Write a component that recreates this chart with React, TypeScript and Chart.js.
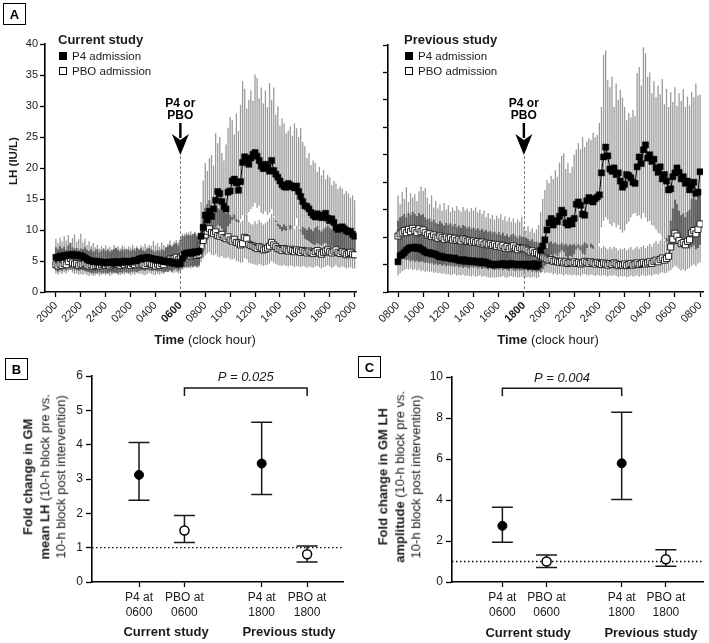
import React, { useEffect, useRef } from "react";
import { Chart, registerables } from "chart.js";
Chart.register(...registerables);

const FONT = "'Liberation Sans', Arial, Helvetica, sans-serif";
Chart.defaults.font.family = FONT;
Chart.defaults.color = "#1a1a1a";

// ---------------- Panel A : 10-min LH sampling, 145 samples ----------------
const curTickLabels = ["2000", "2200", "2400", "0200", "0400", "0600", "0800", "1000", "1200", "1400", "1600", "1800", "2000"];
const prevTickLabels = ["0800", "1000", "1200", "1400", "1600", "1800", "2000", "2200", "2400", "0200", "0400", "0600", "0800"];
const samplesPerTick = 12;
const interventionSample = 60;

// Current study (P4 / PBO at 0600)
const curP4Mean = [
  5.6,5.5,5.8,5.7,5.9,5.8,6.0,5.9,6.1,5.9,6.0,5.8,
  5.9,5.7,5.5,5.3,5.1,5.0,4.9,5.0,4.8,4.9,4.8,4.8,
  4.7,4.8,4.8,4.7,4.9,4.8,4.7,4.9,4.8,5.0,4.9,4.8,
  4.9,5.0,5.1,5.0,5.3,5.4,5.5,5.4,5.6,5.5,5.4,5.3,
  5.3,5.1,5.2,5.0,4.9,5.0,4.8,4.9,4.7,4.6,4.8,4.5,
  4.6,5.4,6.1,6.3,6.2,6.4,6.3,6.5,6.4,6.6,9.0,10.4,
  12.4,11.6,13.0,12.2,13.4,14.8,16.2,15.9,14.6,13.8,13.4,16.1,
  16.3,17.9,18.2,17.6,16.4,17.8,20.9,21.8,21.3,20.6,21.6,22.2,
  22.5,21.9,21.2,20.3,19.9,20.6,20.1,19.5,21.2,19.6,19.0,18.5,
  17.9,17.3,17.0,16.9,17.5,17.2,17.0,16.8,17.1,16.2,15.4,14.6,
  13.9,13.8,13.4,12.8,12.4,12.1,12.6,12.3,12.0,12.4,12.7,11.9,
  11.5,11.8,11.2,10.4,10.1,10.3,10.5,10.2,9.9,9.7,9.8,9.3,
  9.0,
];
const curP4Upper = [
  8.6,7.9,8.8,8.2,9.0,8.3,9.2,8.0,8.7,9.3,8.1,8.5,
  9.4,8.0,8.6,7.6,8.2,7.4,7.9,7.2,7.6,7.0,7.4,7.1,
  7.5,7.0,7.3,6.9,7.6,7.2,7.4,7.0,7.5,7.3,6.9,7.4,
  7.2,7.6,7.1,7.4,7.0,7.5,7.3,7.8,7.2,7.6,7.4,8.2,
  7.5,7.9,7.3,8.0,7.6,7.2,7.8,8.3,7.6,8.1,8.4,8.0,
  8.6,9.4,9.0,9.6,9.2,9.8,9.3,9.5,9.0,9.4,14.5,18.0,
  20.8,19.5,21.6,22.1,20.4,25.6,24.0,25.0,22.4,21.2,23.8,26.5,
  28.2,27.7,25.4,28.8,26.0,30.2,34.0,32.8,29.6,31.0,32.5,30.8,
  35.1,34.5,31.2,33.0,30.4,32.5,29.8,33.7,31.0,33.0,28.6,29.9,
  26.8,28.0,27.2,25.6,26.0,26.7,25.2,27.2,26.4,25.0,26.5,24.2,
  23.5,21.6,22.4,20.5,21.2,20.8,19.4,20.2,18.8,19.7,18.2,18.9,
  18.5,17.2,17.9,17.5,16.6,17.0,16.7,15.8,16.3,15.9,15.2,15.6,
  14.8,
];
const curP4Lower = [
  3.5,3.3,3.6,3.4,3.7,3.5,3.8,3.6,3.7,3.5,3.6,3.4,
  3.6,3.5,3.4,3.3,3.2,3.1,3.0,3.1,3.0,3.2,3.0,3.1,
  3.1,3.0,3.2,3.1,3.2,3.1,3.0,3.2,3.1,3.3,3.2,3.1,
  3.2,3.3,3.3,3.2,3.4,3.5,3.5,3.4,3.6,3.5,3.4,3.4,
  3.5,3.3,3.4,3.3,3.2,3.3,3.2,3.3,3.1,3.1,3.2,3.0,
  3.2,3.6,4.0,4.1,4.0,4.2,4.1,4.2,4.1,4.3,5.6,6.4,
  8.0,8.4,9.2,9.6,10.0,10.4,10.8,10.6,10.2,9.8,9.6,10.6,
  11.0,11.6,11.8,11.4,11.2,11.8,12.4,12.8,12.6,12.9,13.4,13.8,
  14.4,13.6,13.9,12.8,12.6,13.0,12.4,12.8,13.4,12.2,11.3,10.6,
  10.2,9.8,10.0,9.9,10.3,10.1,10.4,10.6,11.9,10.4,9.8,9.2,
  8.6,8.4,8.2,7.9,7.7,7.6,7.9,7.7,7.5,7.8,7.9,7.4,
  7.2,7.4,7.0,6.8,6.7,6.9,7.0,6.8,6.7,6.5,6.6,6.3,
  6.2,
];
const curPboMean = [
  4.4,4.2,4.5,4.3,4.6,4.4,4.9,5.4,4.7,4.5,4.6,4.3,
  4.5,4.4,4.6,4.3,4.2,4.4,4.1,4.3,4.5,4.2,4.4,4.6,
  4.3,4.5,4.2,4.4,4.6,4.8,4.5,4.3,4.6,4.4,4.7,4.5,
  4.3,4.6,4.4,4.8,4.5,4.7,4.4,4.3,4.6,4.8,4.5,4.4,
  4.2,4.5,4.3,4.6,4.4,4.9,5.1,5.3,5.0,5.4,5.6,5.2,
  5.5,5.8,6.0,5.9,6.1,5.8,6.0,6.2,5.9,6.1,7.4,8.3,
  9.2,9.8,10.2,9.6,9.4,9.7,9.1,9.0,9.3,8.8,8.6,8.9,
  8.4,8.2,8.5,8.0,7.9,7.6,7.8,8.8,8.6,7.7,7.5,7.4,
  7.2,7.0,7.3,7.1,6.8,6.9,7.1,7.4,8.0,7.6,7.3,7.0,
  6.9,6.7,7.0,6.8,6.6,6.9,6.7,6.5,6.8,6.6,6.4,6.7,
  6.5,6.3,6.6,6.4,6.2,6.5,6.7,6.3,6.1,6.4,6.6,6.8,
  6.5,6.3,6.6,6.8,6.4,6.2,6.5,6.3,6.0,6.2,6.4,6.1,
  6.0,
];
const curPboUpper = [
  7.2,6.9,7.4,7.0,7.3,6.8,7.5,7.9,7.2,7.0,7.1,6.8,
  7.0,6.9,7.2,6.8,6.6,6.9,6.5,6.7,6.9,6.4,6.7,6.9,
  6.6,6.8,6.5,6.7,6.9,7.1,6.8,6.6,6.9,6.7,7.0,6.8,
  6.6,6.9,6.7,7.1,6.8,7.0,6.7,6.6,6.9,7.1,6.8,6.7,
  6.5,6.8,6.6,6.9,6.7,7.2,7.4,7.6,7.3,7.7,7.9,7.5,
  8.4,9.0,9.4,9.2,9.6,9.1,9.4,9.7,9.3,9.5,11.0,12.4,
  13.6,14.2,14.8,14.0,13.8,14.2,13.5,13.3,13.7,13.0,12.7,13.1,
  12.4,12.1,12.5,11.8,11.6,11.2,11.5,12.8,12.5,11.3,11.0,10.9,
  11.4,11.0,11.6,11.2,10.9,11.1,11.4,11.9,12.6,12.0,11.5,11.0,
  10.8,10.5,10.9,10.6,10.3,10.8,10.5,10.2,10.7,10.3,10.0,10.5,
  10.3,10.0,10.4,10.1,9.8,10.3,10.6,10.0,9.7,10.1,10.4,10.7,
  10.3,10.0,10.4,10.7,10.1,9.8,10.3,10.0,9.6,9.9,10.1,9.7,
  9.6,
];
const curPboLower = [
  3.0,2.8,3.1,2.9,3.2,3.0,3.3,3.6,3.1,2.9,3.0,2.8,
  2.9,2.8,3.0,2.7,2.6,2.8,2.6,2.7,2.9,2.6,2.8,2.9,
  2.7,2.9,2.6,2.8,2.9,3.0,2.8,2.7,2.9,2.8,3.0,2.9,
  2.7,2.9,2.8,3.1,2.9,3.0,2.8,2.7,2.9,3.1,2.9,2.8,
  2.7,2.9,2.8,3.0,2.9,3.2,3.3,3.5,3.3,3.6,3.7,3.4,
  3.6,3.8,3.9,3.8,4.0,3.8,3.9,4.1,3.9,4.0,4.8,5.4,
  5.9,6.2,6.4,6.0,5.9,6.1,5.7,5.6,5.8,5.5,5.4,5.6,
  5.3,5.2,5.4,5.0,4.9,4.7,4.8,5.5,5.3,4.7,4.6,4.5,
  4.4,4.3,4.5,4.4,4.2,4.3,4.4,4.6,5.0,4.7,4.5,4.3,
  4.3,4.2,4.4,4.2,4.1,4.3,4.2,4.0,4.2,4.1,4.0,4.2,
  4.1,3.9,4.1,4.0,3.9,4.1,4.2,4.0,3.8,4.0,4.1,4.3,
  4.1,3.9,4.1,4.3,4.0,3.9,4.1,4.0,3.8,3.9,4.0,3.8,
  3.8,
];

// Previous study (P4 / PBO at 1800)
const prevP4Mean = [
  5.5,6.6,6.8,7.2,7.6,7.9,8.1,8.0,8.2,7.9,8.1,7.8,
  7.6,7.3,7.1,7.2,6.9,7.0,6.8,6.6,6.4,6.5,6.3,6.2,
  6.3,6.1,6.0,6.2,5.9,5.8,5.7,5.9,5.6,5.8,5.6,5.5,
  5.7,5.5,5.4,5.6,5.3,5.5,5.4,5.2,5.0,5.1,4.9,5.0,
  5.1,5.0,5.2,5.0,4.9,5.1,5.2,5.0,5.1,4.9,5.0,5.1,
  5.0,4.8,5.1,4.7,4.9,5.2,4.6,5.0,7.6,8.4,9.5,11.3,
  12.6,13.4,12.2,13.0,12.8,13.8,14.9,14.4,12.6,12.2,13.0,12.4,
  13.4,16.0,16.4,15.8,14.2,14.0,16.6,17.2,16.8,16.4,17.0,17.3,
  17.7,21.7,24.6,26.4,24.8,22.4,22.0,22.6,21.4,21.7,20.2,19.1,
  19.6,21.4,21.2,20.8,20.0,19.8,22.8,24.6,23.4,25.9,26.8,24.4,
  25.0,23.8,24.2,22.6,21.8,22.8,20.6,21.4,20.2,18.6,18.8,21.0,
  21.7,22.6,21.8,20.6,21.0,19.8,20.2,18.6,19.4,20.0,18.0,18.2,
  21.9,
];
const prevP4Upper = [
  17.6,16.0,18.2,17.0,19.1,16.4,18.0,17.2,17.8,16.6,18.3,19.2,
  18.4,19.0,17.2,16.0,17.6,15.4,16.6,15.2,16.0,14.8,16.2,15.0,
  15.8,14.6,15.4,14.8,15.6,15.0,14.6,15.5,14.9,15.2,14.6,15.3,
  14.8,15.4,14.5,15.0,14.2,14.8,13.6,14.4,13.4,14.0,13.2,13.9,
  13.4,14.2,13.1,13.8,12.9,13.6,12.8,13.4,12.6,13.2,12.8,13.7,
  11.8,11.2,12.0,11.0,11.6,10.8,11.4,12.2,14.6,17.0,18.6,20.4,
  19.8,21.2,20.6,22.2,21.0,23.6,24.8,25.3,22.4,23.5,21.7,22.8,
  25.0,25.9,27.1,26.0,28.2,26.4,27.4,28.0,27.7,29.0,28.2,28.6,
  30.8,33.7,43.2,44.0,38.6,37.3,39.2,33.7,38.0,35.0,36.8,35.4,
  33.7,31.3,32.6,31.8,33.2,32.0,39.9,41.0,37.6,44.6,43.5,39.2,
  40.0,36.2,38.4,35.5,37.6,36.0,38.8,34.2,37.0,33.7,36.4,34.6,
  37.3,33.9,36.2,34.8,37.0,33.7,35.6,34.0,36.5,35.5,38.0,35.8,
  36.0,
];
const prevP4Lower = [
  3.0,3.4,3.8,4.0,4.2,4.1,4.3,4.0,4.2,3.9,4.1,3.8,
  3.9,3.7,3.8,3.6,3.7,3.5,3.6,3.4,3.5,3.3,3.4,3.2,
  3.3,3.1,3.2,3.3,3.0,3.1,3.0,3.2,2.9,3.0,2.9,2.8,
  3.0,2.8,2.9,3.0,2.8,2.9,2.8,2.7,2.6,2.7,2.6,2.7,
  2.8,2.7,2.9,2.7,2.6,2.8,2.9,2.7,2.8,2.6,2.7,2.8,
  2.7,2.6,2.8,2.6,2.7,2.8,2.5,2.7,3.6,4.2,4.8,5.6,
  6.2,6.8,6.4,7.0,6.6,7.2,7.6,7.3,6.5,6.2,6.6,6.4,
  6.9,7.8,8.1,7.6,7.0,6.8,8.0,8.4,8.1,7.9,8.3,8.6,
  8.9,11.8,13.0,13.6,13.2,12.4,12.0,12.6,11.8,12.2,11.4,10.8,
  11.2,12.4,12.8,13.6,14.2,14.4,13.8,14.0,13.4,14.4,13.6,12.8,
  13.0,12.2,12.0,11.4,10.8,10.6,10.0,9.6,9.2,8.8,8.6,8.4,
  8.6,8.8,8.4,8.2,8.6,8.0,8.3,7.9,8.2,8.5,7.8,8.0,
  8.6,
];
const prevPboMean = [
  10.2,10.6,10.9,11.2,10.8,11.4,11.0,11.6,11.2,10.8,11.5,11.0,
  11.3,10.8,10.4,10.6,10.1,10.4,10.0,9.8,10.2,9.9,9.6,10.0,
  9.7,9.9,9.5,9.8,9.4,9.6,9.3,9.7,9.5,9.2,9.4,9.1,
  9.3,9.0,9.2,8.9,9.1,8.7,8.9,8.6,8.8,8.5,8.7,8.3,
  8.6,8.2,8.5,8.0,8.3,7.9,8.2,8.4,8.0,7.7,8.1,7.9,
  8.0,7.8,7.6,7.3,7.5,7.1,7.2,6.9,6.6,6.4,6.2,6.0,
  5.8,5.9,5.6,5.7,5.5,5.4,5.6,5.3,5.5,5.2,5.4,5.3,
  5.5,5.2,5.4,5.1,5.3,5.6,5.4,5.2,5.5,5.3,5.1,5.4,
  5.2,5.0,5.3,5.1,4.9,5.2,5.0,5.3,5.1,4.8,5.0,4.9,
  5.1,4.8,5.0,5.2,4.9,5.1,5.3,5.0,5.2,5.4,5.1,5.3,
  5.5,5.2,5.6,5.8,5.5,5.9,6.2,5.8,6.1,6.5,8.2,9.6,
  10.7,10.2,9.4,8.8,9.0,8.6,9.2,9.5,10.8,11.2,10.6,11.4,
  12.4,
];
const prevPboUpper = [
  13.0,13.6,13.8,14.2,13.6,14.4,14.0,14.6,14.2,13.8,14.4,14.0,
  14.2,13.6,13.2,13.4,12.8,13.2,12.6,12.4,12.9,12.5,12.1,12.6,
  12.2,12.5,12.0,12.4,11.8,12.1,11.7,12.2,12.0,11.6,11.9,11.5,
  11.7,11.4,11.6,11.2,11.5,11.0,11.3,10.9,11.1,10.8,11.0,10.5,
  10.9,10.4,10.8,10.2,10.5,10.0,10.4,10.6,10.2,9.8,10.3,10.0,
  10.1,9.9,9.7,9.3,9.6,9.1,9.2,8.9,8.6,8.4,8.2,8.0,
  9.0,9.2,8.8,9.0,8.7,8.6,8.9,8.5,8.8,8.4,8.7,8.5,
  8.8,8.4,8.7,8.3,8.6,9.0,8.7,8.4,8.8,8.5,8.2,8.6,
  8.3,8.0,8.4,8.1,7.8,8.2,7.9,8.3,8.0,7.6,7.9,7.8,
  8.0,7.6,7.9,8.2,7.7,8.0,8.3,7.9,8.2,8.5,8.0,8.4,
  8.8,8.3,8.9,9.3,8.8,9.4,9.9,9.3,9.8,10.4,13.0,15.2,
  16.8,16.0,14.8,14.0,14.3,13.6,14.6,15.0,17.0,17.6,16.8,18.0,
  18.6,
];
const prevPboLower = [
  6.2,6.5,6.4,6.0,5.8,5.9,5.6,5.8,5.5,5.7,5.4,5.6,
  5.5,5.3,5.4,5.2,5.3,5.0,5.2,4.9,5.1,4.8,5.0,4.7,
  4.9,4.7,4.8,4.6,4.8,4.5,4.7,4.4,4.6,4.5,4.3,4.6,
  4.4,4.6,4.3,4.5,4.2,4.4,4.3,4.1,4.4,4.2,4.0,4.3,
  4.1,4.3,4.0,4.2,4.1,3.9,4.2,4.0,3.8,4.1,3.9,4.0,
  3.9,4.1,3.8,4.0,3.7,3.9,3.6,3.8,3.5,3.7,3.4,3.6,
  3.4,3.5,3.2,3.4,3.1,3.3,3.2,3.0,3.3,3.1,3.2,3.0,
  3.2,3.0,3.1,2.9,3.2,3.3,3.1,3.0,3.2,3.1,2.9,3.1,
  3.0,2.9,3.1,3.0,2.8,3.0,2.9,3.1,2.9,2.7,2.9,2.8,
  2.9,2.7,2.8,3.0,2.8,2.9,3.0,2.8,3.0,3.1,2.9,3.0,
  3.1,2.9,3.2,3.3,3.1,3.4,3.6,3.4,3.5,3.8,4.0,4.4,
  4.8,4.6,4.2,3.9,4.1,3.8,4.2,4.4,4.8,5.0,4.7,5.2,
  5.4,
];

// ---------------- Panels B & C : fold changes (GM, 95% CI) ----------------
const groupLabels = [["P4 at", "0600"], ["PBO at", "0600"], ["P4 at", "1800"], ["PBO at", "1800"]];
const groupFilled = [true, false, true, false];
const meanFoldMean = [3.12, 1.50, 3.45, 0.81];
const meanFoldUpper = [4.06, 1.94, 4.65, 1.05];
const meanFoldLower = [2.38, 1.15, 2.55, 0.58];
const ampFoldMean = [2.74, 1.00, 5.79, 1.11];
const ampFoldUpper = [3.65, 1.32, 8.28, 1.57];
const ampFoldLower = [1.94, 0.71, 4.03, 0.77];

// ---------------- plugins ----------------
// Error bars of both series: single coverage in light grey, overlap of the two in dark grey.
const errorBandPlugin = (a: any, b: any) => ({
  id: "errorBand",
  beforeDatasetsDraw(chart: any) {
    const { ctx } = chart;
    const xs = chart.scales.x, ys = chart.scales.y;
    ctx.save();
    const n = a.lo.length;
    ctx.strokeStyle = "#9a9a9a";
    ctx.lineWidth = 1.3;
    for (let i = 0; i < n; i++) {
      const px = xs.getPixelForValue(i);
      for (const s of [a, b]) {
        ctx.beginPath();
        ctx.moveTo(px, ys.getPixelForValue(s.lo[i]));
        ctx.lineTo(px, ys.getPixelForValue(s.hi[i]));
        ctx.stroke();
      }
    }
    ctx.strokeStyle = "#606060";
    ctx.lineWidth = 1.9;
    for (let i = 0; i < n; i++) {
      const lo = Math.max(a.lo[i], b.lo[i]);
      const hi = Math.min(a.hi[i], b.hi[i]);
      if (hi <= lo) continue;
      const px = xs.getPixelForValue(i);
      ctx.beginPath();
      ctx.moveTo(px, ys.getPixelForValue(lo));
      ctx.lineTo(px, ys.getPixelForValue(hi));
      ctx.stroke();
    }
    ctx.restore();
  },
});

const interventionPlugin = (at: number) => ({
  id: "intervention",
  beforeDatasetsDraw(chart: any) {
    const { ctx, chartArea } = chart;
    const px = Math.round(chart.scales.x.getPixelForValue(at)) + 0.5;
    ctx.save();
    ctx.strokeStyle = "#808080";
    ctx.lineWidth = 1;
    ctx.setLineDash([3, 2]);
    ctx.beginPath();
    ctx.moveTo(px, 156);
    ctx.lineTo(px, chartArea.bottom);
    ctx.stroke();
    ctx.restore();
  },
  afterDraw(chart: any) {
    const { ctx } = chart;
    const px = chart.scales.x.getPixelForValue(at);
    ctx.save();
    ctx.fillStyle = "#000";
    ctx.font = `bold 12px ${FONT}`;
    ctx.textAlign = "center";
    ctx.textBaseline = "middle";
    ctx.fillText("P4 or", px, 104);
    ctx.fillText("PBO", px, 115.5);
    ctx.fillRect(px - 1.2, 123, 2.4, 15);
    ctx.beginPath();
    ctx.moveTo(px - 8.5, 134);
    ctx.lineTo(px, 155);
    ctx.lineTo(px + 8.5, 134);
    ctx.lineTo(px, 140);
    ctx.closePath();
    ctx.fill();
    ctx.restore();
  },
});

const summaryPlugin = (pos: number[], lo: number[], hi: number[], br: any) => ({
  id: "summary",
  beforeDatasetsDraw(chart: any) {
    const { ctx, chartArea: ca } = chart;
    const xs = chart.scales.x, ys = chart.scales.y;
    ctx.save();
    const y1 = ys.getPixelForValue(1);
    ctx.strokeStyle = "#000";
    ctx.lineWidth = 1.3;
    ctx.setLineDash([1.5, 2.5]);
    ctx.beginPath();
    ctx.moveTo(ca.left, y1);
    ctx.lineTo(ca.right, y1);
    ctx.stroke();
    ctx.setLineDash([]);
    ctx.strokeStyle = "#1a1a1a";
    ctx.lineWidth = 1.5;
    pos.forEach((p, k) => {
      const px = xs.getPixelForValue(p);
      const yh = ys.getPixelForValue(hi[k]);
      const yl = ys.getPixelForValue(lo[k]);
      ctx.beginPath();
      ctx.moveTo(px, yh); ctx.lineTo(px, yl);
      ctx.moveTo(px - 10.5, yh); ctx.lineTo(px + 10.5, yh);
      ctx.moveTo(px - 10.5, yl); ctx.lineTo(px + 10.5, yl);
      ctx.stroke();
    });
    // significance bracket
    const xa = xs.getPixelForValue(pos[br.from]);
    const xb = xs.getPixelForValue(pos[br.to]);
    const yt = ys.getPixelForValue(br.yTop);
    const ye = ys.getPixelForValue(br.yEnd);
    ctx.beginPath();
    ctx.moveTo(xa, ye); ctx.lineTo(xa, yt); ctx.lineTo(xb, yt); ctx.lineTo(xb, ye);
    ctx.stroke();
    ctx.fillStyle = "#1a1a1a";
    ctx.font = `italic 13px ${FONT}`;
    ctx.textAlign = "center";
    ctx.textBaseline = "middle";
    ctx.fillText(br.text, (xa + xb) / 2, ys.getPixelForValue(br.yText) + 1);
    ctx.restore();
  },
});

// ---------------- chart configs ----------------
function timeCourseConfig(o: any) {
  const tickVals = o.labels.map((_: string, k: number) => k * samplesPerTick);
  const pts = (arr: number[]) => arr.map((v, i) => ({ x: i, y: v }));
  return {
    type: "line",
    data: {
      datasets: [
        {
          label: "P4 admission",
          data: pts(o.p4.mean),
          borderColor: "#000",
          borderWidth: 1,
          pointStyle: "rect",
          pointRadius: 4.3,
          pointBackgroundColor: "#000",
          pointBorderColor: "#000",
          pointBorderWidth: 0.5,
          tension: 0,
        },
        {
          label: "PBO admission",
          data: pts(o.pbo.mean),
          borderColor: "#333",
          borderWidth: 1,
          pointStyle: "rect",
          pointRadius: 4.3,
          pointBackgroundColor: "#fff",
          pointBorderColor: "#222",
          pointBorderWidth: 1,
          tension: 0,
        },
      ],
    },
    options: {
      responsive: false,
      animation: false,
      events: [],
      layout: { padding: { left: 0, right: o.padRight, top: o.padTop, bottom: 8 } },
      plugins: { legend: { display: false }, tooltip: { enabled: false } },
      scales: {
        x: {
          type: "linear",
          min: o.xMin,
          max: o.xMax,
          afterBuildTicks: (s: any) => { s.ticks = tickVals.map((v: number) => ({ value: v })); },
          afterFit: (s: any) => { s.height = 30; s.paddingLeft = 0; s.paddingRight = 0; },
          ticks: {
            autoSkip: false,
            minRotation: 45,
            maxRotation: 45,
            padding: 2,
            color: "#1a1a1a",
            callback: (v: number) => { const k = tickVals.indexOf(v); return k >= 0 ? o.labels[k] : ""; },
            font: (c: any) => ({ size: 11, weight: c.tick && c.tick.value === interventionSample ? "bold" : "normal" }),
          },
          grid: { drawOnChartArea: false, drawTicks: true, tickLength: 5, tickColor: "#000", tickWidth: 1.3 },
          border: { display: true, color: "#000", width: 1.6 },
        },
        y: {
          type: "linear",
          min: 0,
          max: o.yMax,
          afterFit: (s: any) => { s.width = o.yAxisWidth; s.paddingTop = 0; s.paddingBottom = 0; },
          ticks: {
            stepSize: 5,
            padding: 2,
            color: "#1a1a1a",
            font: { size: 11 },
            callback: (v: number) => (o.showYLabels ? String(v) : ""),
          },
          grid: { drawOnChartArea: false, drawTicks: true, tickLength: 5, tickColor: "#000", tickWidth: 1.3 },
          border: { display: true, color: "#000", width: 1.6 },
        },
      },
    },
    plugins: [
      errorBandPlugin({ lo: o.p4.lo, hi: o.p4.hi }, { lo: o.pbo.lo, hi: o.pbo.hi }),
      interventionPlugin(interventionSample),
    ],
  };
}

function foldConfig(o: any) {
  const filled: any[] = [];
  const open: any[] = [];
  o.pos.forEach((p: number, k: number) => (groupFilled[k] ? filled : open).push({ x: p, y: o.mean[k] }));
  return {
    type: "scatter",
    data: {
      datasets: [
        { label: "P4", data: filled, pointStyle: "circle", pointRadius: 4.5, pointBackgroundColor: "#000", pointBorderColor: "#000", pointBorderWidth: 1 },
        { label: "PBO", data: open, pointStyle: "circle", pointRadius: 4.5, pointBackgroundColor: "#fff", pointBorderColor: "#000", pointBorderWidth: 1.5 },
      ],
    },
    options: {
      responsive: false,
      animation: false,
      events: [],
      layout: { padding: { left: 0, right: o.padRight, top: o.padTop, bottom: 21 } },
      plugins: { legend: { display: false }, tooltip: { enabled: false } },
      scales: {
        x: {
          type: "linear",
          min: o.xMin,
          max: o.xMax,
          afterBuildTicks: (s: any) => { s.ticks = o.pos.map((v: number) => ({ value: v })); },
          afterFit: (s: any) => { s.height = 40; s.paddingLeft = 0; s.paddingRight = 0; },
          ticks: {
            autoSkip: false,
            maxRotation: 0,
            minRotation: 0,
            padding: 3,
            color: "#1a1a1a",
            font: { size: 12, lineHeight: 1.25 },
            callback: (v: number) => { const k = o.pos.indexOf(v); return k >= 0 ? groupLabels[k] : ""; },
          },
          grid: { drawOnChartArea: false, drawTicks: true, tickLength: 5, tickColor: "#000", tickWidth: 1.3 },
          border: { display: true, color: "#000", width: 1.6 },
        },
        y: {
          type: "linear",
          min: 0,
          max: o.yMax,
          afterFit: (s: any) => { s.width = o.yAxisWidth; s.paddingTop = 0; s.paddingBottom = 0; },
          ticks: { stepSize: o.yStep, padding: 3, color: "#1a1a1a", font: { size: 12 } },
          grid: { drawOnChartArea: false, drawTicks: true, tickLength: 6, tickColor: "#000", tickWidth: 1.3 },
          border: { display: true, color: "#000", width: 1.6 },
        },
      },
    },
    plugins: [summaryPlugin(o.pos, o.lower, o.upper, o.bracket)],
  };
}

// ---------------- components ----------------
function ChartBox({ left, top, width, height, make }: any) {
  const ref = useRef<HTMLCanvasElement>(null);
  useEffect(() => {
    const chart = new Chart(ref.current as HTMLCanvasElement, make());
    return () => chart.destroy();
  }, []);
  return (
    <canvas
      ref={ref}
      width={width}
      height={height}
      style={{ position: "absolute", left, top, width, height }}
    />
  );
}

function Txt({ x, y, size = 12, bold = false, italic = false, align = "left", children }: any) {
  const lh = Math.round(size * 1.25);
  const base: any = {
    position: "absolute",
    top: y - lh / 2,
    fontSize: size,
    lineHeight: `${lh}px`,
    fontWeight: bold ? "bold" : "normal",
    fontStyle: italic ? "italic" : "normal",
    whiteSpace: "nowrap",
    color: "#1a1a1a",
  };
  if (align === "center") {
    base.left = x - 200;
    base.width = 400;
    base.textAlign = "center";
  } else {
    base.left = x;
  }
  return <div style={base}>{children}</div>;
}

function PanelLetter({ x, y, letter }: any) {
  return (
    <div
      style={{
        position: "absolute",
        left: x,
        top: y,
        width: 23,
        height: 22,
        border: "1.5px solid #000",
        boxSizing: "border-box",
        display: "flex",
        alignItems: "center",
        justifyContent: "center",
        fontWeight: "bold",
        fontSize: 13,
      }}
    >
      {letter}
    </div>
  );
}

function Legend({ x, title }: any) {
  const sq = (filled: boolean, y: number) => (
    <div
      style={{
        position: "absolute",
        left: x + 1,
        top: y - 4,
        width: 8,
        height: 8,
        boxSizing: "border-box",
        background: filled ? "#000" : "#fff",
        border: "1px solid #000",
      }}
    />
  );
  return (
    <>
      <Txt x={x} y={40} size={13} bold>{title}</Txt>
      {sq(true, 56)}
      <Txt x={x + 14} y={56} size={11.5}>P4 admission</Txt>
      {sq(false, 71)}
      <Txt x={x + 14} y={71} size={11.5}>PBO admission</Txt>
    </>
  );
}

function RotTitle({ cx, cy, lines, size = 13, lh = 16.5 }: any) {
  const h = lh * lines.length;
  return (
    <div
      style={{
        position: "absolute",
        left: cx - 130,
        top: cy - h / 2,
        width: 260,
        height: h,
        transform: "rotate(-90deg)",
        transformOrigin: "50% 50%",
        textAlign: "center",
        fontSize: size,
        lineHeight: `${lh}px`,
        whiteSpace: "nowrap",
        color: "#1a1a1a",
      }}
    >
      {lines.map((l: any, k: number) => (
        <div key={k}>{l}</div>
      ))}
    </div>
  );
}

const groupPos = [1, 2, 3.7, 4.7];

export default function App() {
  return (
    <div
      style={{
        position: "fixed",
        left: 0,
        top: 0,
        width: 709,
        height: 643,
        background: "#fff",
        overflow: "hidden",
        fontFamily: FONT,
      }}
    >
      <ChartBox
        left={0}
        top={0}
        width={362}
        height={330}
        make={() =>
          timeCourseConfig({
            p4: { mean: curP4Mean, lo: curP4Lower, hi: curP4Upper },
            pbo: { mean: curPboMean, lo: curPboLower, hi: curPboUpper },
            labels: curTickLabels,
            yMax: 40,
            showYLabels: true,
            xMin: -5.25,
            xMax: 145.0,
            yAxisWidth: 45,
            padRight: 2,
            padTop: 44,
          })
        }
      />
      <ChartBox
        left={355}
        top={0}
        width={354}
        height={330}
        make={() =>
          timeCourseConfig({
            p4: { mean: prevP4Mean, lo: prevP4Lower, hi: prevP4Upper },
            pbo: { mean: prevPboMean, lo: prevPboLower, hi: prevPboUpper },
            labels: prevTickLabels,
            yMax: 45,
            showYLabels: false,
            xMin: -4.77,
            xMax: 145.4,
            yAxisWidth: 33,
            padRight: 6,
            padTop: 45,
          })
        }
      />
      <ChartBox
        left={0}
        top={320}
        width={360}
        height={323}
        make={() =>
          foldConfig({
            pos: groupPos,
            mean: meanFoldMean,
            upper: meanFoldUpper,
            lower: meanFoldLower,
            xMin: -0.035,
            xMax: 5.49,
            yMax: 6,
            yStep: 1,
            yAxisWidth: 92,
            padRight: 17,
            padTop: 56,
            bracket: { from: 1, to: 3, yTop: 5.65, yEnd: 5.42, yText: 6.0, text: "P = 0.025" },
          })
        }
      />
      <ChartBox
        left={355}
        top={320}
        width={354}
        height={323}
        make={() =>
          foldConfig({
            pos: groupPos,
            mean: ampFoldMean,
            upper: ampFoldUpper,
            lower: ampFoldLower,
            xMin: -0.14,
            xMax: 5.54,
            yMax: 10,
            yStep: 2,
            yAxisWidth: 97,
            padRight: 1,
            padTop: 57,
            bracket: { from: 0, to: 2, yTop: 9.45, yEnd: 9.06, yText: 10.0, text: "P = 0.004" },
          })
        }
      />

      <PanelLetter x={3} y={3} letter="A" />
      <PanelLetter x={5} y={358} letter="B" />
      <PanelLetter x={358} y={356} letter="C" />

      <Legend x={58} title="Current study" />
      <Legend x={404} title="Previous study" />

      <RotTitle cx={12.5} cy={161} size={11.5} lh={14} lines={[<b>LH (IU/L)</b>]} />

      <Txt x={205} y={340} size={13} align="center"><b>Time</b> (clock hour)</Txt>
      <Txt x={548} y={340} size={13} align="center"><b>Time</b> (clock hour)</Txt>

      <RotTitle
        cx={45}
        cy={477}
        lines={[
          <b>Fold change in GM</b>,
          <span><b>mean LH</b> (10-h block pre vs.</span>,
          <span>10-h block post intervention)</span>,
        ]}
      />
      <RotTitle
        cx={400}
        cy={477}
        lines={[
          <b>Fold change in GM LH</b>,
          <span><b>amplitude</b> (10-h block pre vs.</span>,
          <span>10-h block post intervention)</span>,
        ]}
      />

      <Txt x={166} y={632} size={13} bold align="center">Current study</Txt>
      <Txt x={289} y={632} size={13} bold align="center">Previous study</Txt>
      <Txt x={528} y={633} size={13} bold align="center">Current study</Txt>
      <Txt x={651} y={633} size={13} bold align="center">Previous study</Txt>
    </div>
  );
}
